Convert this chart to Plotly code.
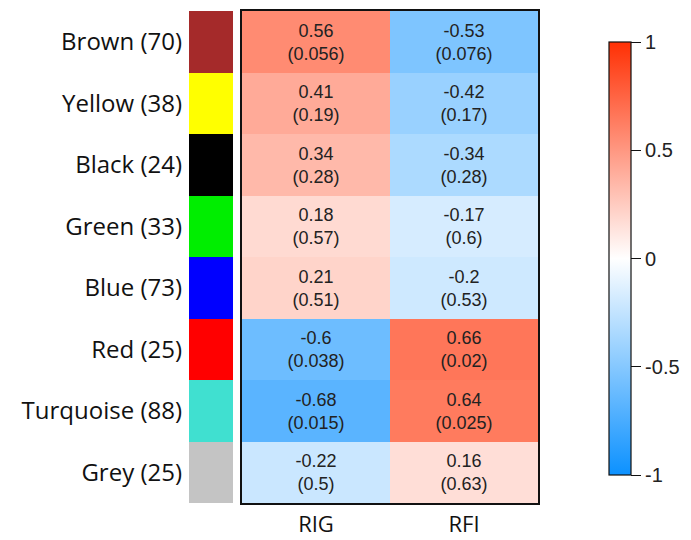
import plotly.graph_objects as go

# Module eigengene / trait correlations with p-values
modules = ["Brown", "Yellow", "Black", "Green", "Blue", "Red", "Turquoise", "Grey"]
module_sizes = [70, 38, 24, 33, 73, 25, 88, 25]
module_colors = ["#A52A2A", "#FFFF00", "#000000", "#00EE00", "#0000FF",
                 "#FF0000", "#40E0D0", "#C4C4C4"]
traits = ["RIG", "RFI"]
cor_rig = [0.56, 0.41, 0.34, 0.18, 0.21, -0.6, -0.68, -0.22]
p_rig = [0.056, 0.19, 0.28, 0.57, 0.51, 0.038, 0.015, 0.5]
cor_rfi = [-0.53, -0.42, -0.34, -0.17, -0.2, 0.66, 0.64, 0.16]
p_rfi = [0.076, 0.17, 0.28, 0.6, 0.53, 0.02, 0.025, 0.63]
cbar_ticks = [-1, -0.5, 0, 0.5, 1]

W, H = 691, 540
row_labels = [f"{m} ({n})" for m, n in zip(modules, module_sizes)]

z = [[a, b] for a, b in zip(cor_rig, cor_rfi)]
text = [[f"{a:g}<br>({pa:g})", f"{b:g}<br>({pb:g})"]
        for a, pa, b, pb in zip(cor_rig, p_rig, cor_rfi, p_rfi)]

# blue - white - red scale
blue_white_red = [[0.0, "rgb(12,145,255)"], [0.5, "rgb(255,255,255)"],
                  [1.0, "rgb(255,48,4)"]]

# discrete colorscale for the module colour strip
n = len(module_colors)
strip_scale = []
for i, c in enumerate(module_colors):
    strip_scale.append([i / n, c])
    strip_scale.append([(i + 1) / n, c])

fig = go.Figure()

fig.add_trace(go.Heatmap(
    z=z, x=traits, y=row_labels, text=text, texttemplate="%{text}",
    textfont=dict(family="Liberation Sans, Arial", size=18, color="#222222"),
    colorscale=blue_white_red, zmin=-1, zmax=1,
    xgap=0, ygap=0, hoverinfo="skip",
    colorbar=dict(
        x=609 / W, xanchor="left", xpad=0,
        y=1 - 258.5 / H, yanchor="middle", ypad=0,
        len=433, lenmode="pixels", thickness=22, thicknessmode="pixels",
        outlinewidth=1.2, outlinecolor="#111111",
        tickvals=cbar_ticks, ticktext=[f"{t:g}" for t in cbar_ticks],
        ticks="outside", ticklen=10, tickwidth=1.2, tickcolor="#111111",
        tickfont=dict(family="Liberation Sans, Arial", size=20, color="#222222"),
    ),
    xaxis="x", yaxis="y",
))

fig.add_trace(go.Heatmap(
    z=[[i] for i in range(n)], x=[0], y=row_labels,
    colorscale=strip_scale, zmin=-0.5, zmax=n - 0.5,
    showscale=False, hoverinfo="skip",
    xaxis="x2", yaxis="y2",
))

y_dom = [1 - 503 / H, 1 - 11 / H]

fig.update_layout(
    width=W, height=H,
    margin=dict(l=0, r=0, t=0, b=0, autoexpand=False),
    paper_bgcolor="white", plot_bgcolor="white",
    showlegend=False,
    xaxis=dict(
        domain=[242 / W, 538 / W], anchor="y", automargin=False,
        showline=True, mirror=True, linecolor="#111111", linewidth=1.6,
        ticks="", showgrid=False, zeroline=False,
        tickfont=dict(family="Open Sans", size=22, color="#111111"),
        ticklabelstandoff=1,
    ),
    yaxis=dict(
        domain=y_dom, anchor="x", autorange="reversed", automargin=False,
        showline=True, mirror=True, linecolor="#111111", linewidth=1.6,
        showticklabels=False, ticks="", showgrid=False, zeroline=False,
    ),
    xaxis2=dict(
        domain=[189 / W, 233 / W], anchor="y2", automargin=False,
        showticklabels=False, ticks="", showgrid=False, zeroline=False,
        showline=False,
    ),
    yaxis2=dict(
        domain=y_dom, anchor="x2", autorange="reversed", automargin=False,
        ticks="", showgrid=False, zeroline=False, showline=False,
        tickfont=dict(family="Open Sans", size=24, color="#111111"),
        ticklabelstandoff=6,
    ),
)

fig.write_html("out.html")
